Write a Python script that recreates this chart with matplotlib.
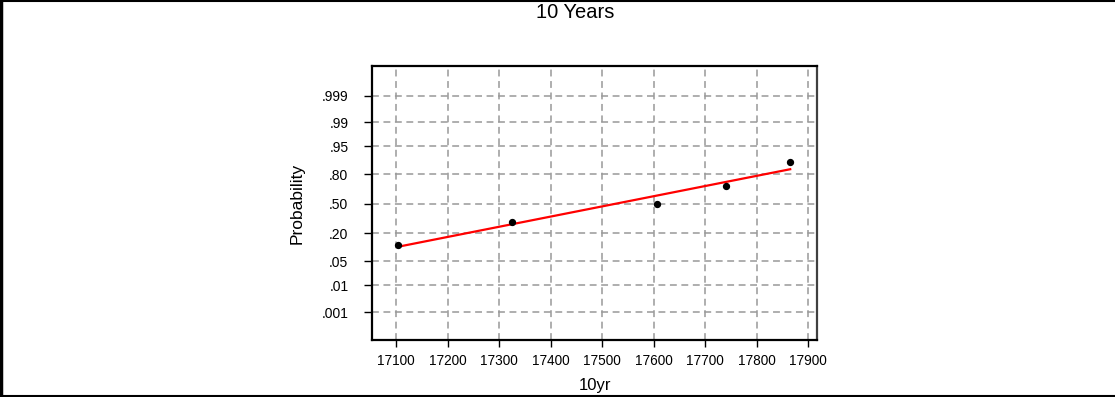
import matplotlib
matplotlib.use("Agg")
import matplotlib.pyplot as plt
from matplotlib.lines import Line2D
from statistics import NormalDist

plt.rcParams['font.family'] = ['Liberation Sans', 'DejaVu Sans']

# Data
x_values = [17104, 17325, 17606, 17741, 17865]
p_values = [0.122, 0.306, 0.50, 0.695, 0.882]
fit_x = [17105, 17865]
fit_p = [0.111, 0.839]
x_ticks = [17100, 17200, 17300, 17400, 17500, 17600, 17700, 17800, 17900]
prob_ticks = [0.001, 0.01, 0.05, 0.20, 0.50, 0.80, 0.95, 0.99, 0.999]
prob_labels = ['.001', '.01', '.05', '.20', '.50', '.80', '.95', '.99', '.999']

nd = NormalDist()
z = lambda ps: [nd.inv_cdf(p) for p in ps]

W, H = 1115, 397
fig = plt.figure(figsize=(W / 100, H / 100), dpi=100)
ax = fig.add_axes([372 / W, 1 - 340 / H, (817 - 372) / W, (340 - 66) / H])

ax.plot(fit_x, z(fit_p), color='#ff0000', lw=1.6, zorder=3)
ax.scatter(x_values, z(p_values), s=18, marker='o', color='black', zorder=4)

ax.set_xlim(17053, 17917)
ax.set_ylim(-3.89, 3.94)
ax.set_xticks(x_ticks)
ax.set_xticklabels([str(t) for t in x_ticks])
ax.set_yticks(z(prob_ticks))
ax.set_yticklabels(prob_labels)

ax.grid(True, color='#999999', linestyle=(0, (4.5, 3)), linewidth=1.1)
ax.set_axisbelow(True)
for s in ax.spines.values():
    s.set_linewidth(1.6)
    s.set_color('black')
ax.spines['right'].set_color('#404040')

ax.tick_params(axis='x', direction='out', length=5, width=1, labelsize=9.8, pad=5)
ax.tick_params(axis='y', direction='out', length=6, width=1, labelsize=10, pad=11)

ax.set_xlabel('10yr', fontsize=12, labelpad=7)
ax.set_ylabel('Probability', fontsize=12.5, labelpad=12)

fig.text(575 / W, 1 - 12 / H, '10 Years', ha='center', va='center', fontsize=14.5)

# figure border lines
fig.add_artist(Line2D([0.5 / W, 0.5 / W], [0, 1], transform=fig.transFigure, color='black', lw=2.5))
fig.add_artist(Line2D([0, 1], [1 - 0.5 / H, 1 - 0.5 / H], transform=fig.transFigure, color='black', lw=1.5))
fig.add_artist(Line2D([0, 1], [0.8 / H, 0.8 / H], transform=fig.transFigure, color='black', lw=1.5))

fig.savefig('out.png', dpi=100)
